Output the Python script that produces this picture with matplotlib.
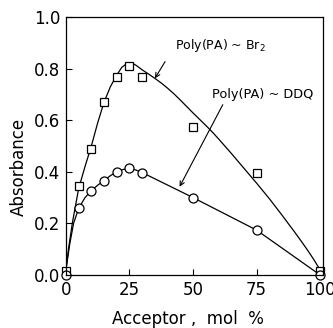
import numpy as np
import matplotlib
matplotlib.use("Agg")
import matplotlib.pyplot as plt

# measured points (acceptor mol %, absorbance)
acc = [0, 5, 10, 15, 20, 25, 30, 50, 75, 100]
abs_br2 = [0.015, 0.345, 0.49, 0.67, 0.766, 0.811, 0.766, 0.575, 0.394, 0.015]
abs_ddq = [0.0, 0.258, 0.327, 0.366, 0.40, 0.413, 0.397, 0.30, 0.174, 0.0]

# hand-drawn guide curves
br2_curve_x = [0, 1, 2.5, 5, 7.5, 10, 12.5, 15, 17.5, 20, 22, 24, 26, 28, 30,
               32.5, 35, 37.5, 40, 42.5, 45, 47.5, 50, 52.5, 55, 57.5, 60, 62.5,
               65, 67.5, 70, 72.5, 75, 77.5, 80, 82.5, 85, 87.5, 90, 92.5, 95,
               97.5, 100]
br2_curve_y = [0.02, 0.10, 0.20, 0.335, 0.42, 0.50, 0.59, 0.67, 0.73, 0.775,
               0.805, 0.82, 0.822, 0.81, 0.795, 0.779, 0.762, 0.744, 0.724,
               0.702, 0.678, 0.653, 0.628, 0.604, 0.58, 0.555, 0.528, 0.50,
               0.472, 0.443, 0.414, 0.385, 0.356, 0.326, 0.296, 0.264, 0.232,
               0.199, 0.166, 0.132, 0.097, 0.06, 0.02]
ddq_curve_x = [0, 1.5, 3, 5, 7.5, 10, 12.5, 15, 17.5, 20, 22.5, 25, 27.5, 30,
               50, 75, 100]
ddq_curve_y = [0.02, 0.12, 0.20, 0.258, 0.30, 0.327, 0.348, 0.366, 0.385,
               0.40, 0.409, 0.413, 0.407, 0.397, 0.30, 0.174, 0.0]

plt.rcParams['font.family'] = 'DejaVu Sans'

fig = plt.figure(figsize=(3.33, 3.28), dpi=100)
ax = fig.add_axes([0.198, 0.1616, 0.771, 0.7866])

ax.plot(br2_curve_x, br2_curve_y, color='black', lw=0.9)
ax.plot(ddq_curve_x, ddq_curve_y, color='black', lw=0.9)
ax.plot(acc, abs_br2, ls='none', marker='s', ms=5.5, mfc='white', mec='black',
        mew=0.9, clip_on=False)
ax.plot(acc, abs_ddq, ls='none', marker='o', ms=6.5, mfc='white', mec='black',
        mew=0.9, clip_on=False)

ax.text(42.9, 0.89, 'Poly(PA) ~ Br$_2$', fontsize=9, va='center', ha='left')
ax.annotate('', xy=(35, 0.762), xytext=(39, 0.827),
            arrowprops=dict(arrowstyle='->', color='black', lw=0.8,
                            shrinkA=0, shrinkB=0, mutation_scale=8))
ax.annotate('', xy=(44.7, 0.342), xytext=(61.7, 0.66),
            arrowprops=dict(arrowstyle='->', color='black', lw=0.8,
                            shrinkA=0, shrinkB=0, mutation_scale=8))
ax.text(57.3, 0.698, 'Poly(PA) ~ DDQ', fontsize=9.3, va='center', ha='left')

ax.set_xlim(0, 101)
ax.set_ylim(0, 1.0)
ax.set_xticks([0, 25, 50, 75, 100])
ax.set_yticks([0.0, 0.2, 0.4, 0.6, 0.8, 1.0])
ax.set_yticklabels(['0.0', '0.2', '0.4', '0.6', '0.8', '1.0'])
ax.tick_params(direction='in', length=4, width=0.8, labelsize=12, pad=4)
for s in ax.spines.values():
    s.set_linewidth(0.9)

ax.set_xlabel('Acceptor ,  mol  %', fontsize=12)
ax.set_ylabel('Absorbance', fontsize=12)
ax.yaxis.set_label_coords(-0.15, 0.42)
ax.xaxis.set_label_coords(0.477, -0.136)

fig.savefig('out.png', dpi=100)
